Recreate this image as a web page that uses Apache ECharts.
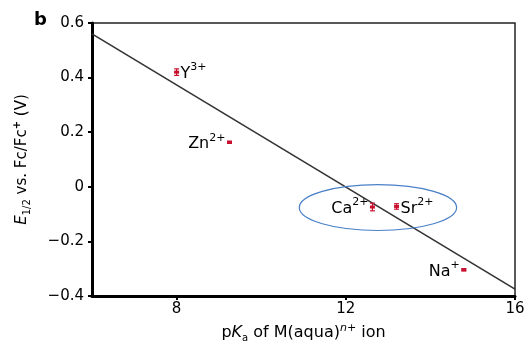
<!DOCTYPE html>
<html>
<head>
<meta charset="utf-8">
<script src="https://cdn.jsdelivr.net/npm/echarts@6/dist/echarts.min.js"></script>
<style>
  html, body { margin: 0; padding: 0; background: #fff; }
  #chart { width: 528px; height: 348px; }
</style>
</head>
<body>
<div id="chart"></div>
<script>
// measured points (pKa, E1/2, half error)
const ions = ['Y', 'Zn', 'Ca', 'Sr', 'Na']
const charges = ['3+', '2+', '2+', '2+', '+']
const pKa = [8.0, 9.25, 12.63, 13.2, 14.79]
const potential = [0.42, 0.163, -0.074, -0.072, -0.304]
const errHalf = [0.012, 0.004, 0.014, 0.01, 0.004]

// linear fit endpoints
const fitX = [6, 16]
const fitY = [0.56, -0.375]

// x ticks and the circled group (Ca, Sr)
const xTicks = [8, 12, 16]
const ellipseCenter = [12.76, -0.076]
const ellipseRadius = [1.86, 0.084]

const labelSide = ['right', 'left', 'left', 'right', 'left']
const FONT = '"DejaVu Sans", "Liberation Sans", sans-serif'
const RED = '#c8102e'
const INK = '#000'

const chart = echarts.init(document.getElementById('chart'))

const supRich = {
  base: { fontSize: 16, fontFamily: FONT, fill: INK, lineHeight: 20, verticalAlign: 'bottom' },
  sup: { fontSize: 11, fontFamily: FONT, fill: INK, lineHeight: 11, verticalAlign: 'top' }
}

const errorData = pKa.map((x, i) => [x, potential[i], errHalf[i]])

// error bar + ion label for each point
const renderErrorBar = (params, api) => {
  const i = params.dataIndex
  const x = api.value(0), y = api.value(1), e = api.value(2)
  const c = api.coord([x, y])
  const hi = api.coord([x, y + e])
  const lo = api.coord([x, y - e])
  const style = { stroke: RED, lineWidth: 1.2 }
  const right = labelSide[i] === 'right'
  return {
    type: 'group',
    children: [
      { type: 'line', shape: { x1: c[0], y1: hi[1], x2: c[0], y2: lo[1] }, style },
      { type: 'line', shape: { x1: c[0] - 2.5, y1: hi[1], x2: c[0] + 2.5, y2: hi[1] }, style },
      { type: 'line', shape: { x1: c[0] - 2.5, y1: lo[1], x2: c[0] + 2.5, y2: lo[1] }, style },
      { type: 'rect', shape: { x: c[0] - 2.5, y: c[1] - 1.5, width: 5, height: 3 }, style: { fill: RED } },
      {
        type: 'text',
        x: right ? c[0] + 4 : c[0] - 4,
        y: c[1],
        style: {
          text: `{base|${ions[i]}}{sup|${charges[i]}}`,
          rich: supRich,
          fill: INK,
          align: right ? 'left' : 'right',
          verticalAlign: 'middle'
        }
      }
    ]
  }
}

const nameRich = (size) => ({
  n: { fontSize: size, fontFamily: FONT, color: INK, lineHeight: 20, verticalAlign: 'middle' },
  i: { fontSize: size, fontFamily: FONT, fontStyle: 'italic', color: INK, lineHeight: 20, verticalAlign: 'middle' },
  sub: { fontSize: 10, fontFamily: FONT, color: INK, lineHeight: 10, verticalAlign: 'bottom' },
  sup: { fontSize: 10, fontFamily: FONT, color: INK, lineHeight: 10, verticalAlign: 'top', fontWeight: 'bold' },
  isup: { fontSize: 11, fontFamily: FONT, fontStyle: 'italic', color: INK, lineHeight: 10, verticalAlign: 'top' }
})

const letterB = {
  type: 'text', left: 34, top: 11,
  style: { text: 'b', fontSize: 18, fontWeight: 'bold', fontFamily: FONT, fill: '#000' }
}

chart.setOption({
  animation: false,
  backgroundColor: '#fff',
  grid: {
    left: 92, right: 13, top: 23, bottom: 50,
    show: true, borderColor: '#222', borderWidth: 1.5
  },
  xAxis: {
    type: 'value',
    min: 6, max: 16,
    name: '{n|p}{i|K}{sub|a}{n| of M(aqua)}{isup|n+}{n| ion}',
    nameLocation: 'middle',
    nameGap: 27,
    nameTextStyle: { rich: nameRich(16) },
    axisLine: { show: true, onZero: false, lineStyle: { color: '#000', width: 3 } },
    axisTick: { show: true, customValues: xTicks, length: 4, lineStyle: { color: '#000', width: 2 } },
    axisLabel: { customValues: xTicks, fontSize: 15, fontFamily: FONT, color: INK, margin: 6 },
    splitLine: { show: false }
  },
  yAxis: {
    type: 'value',
    min: -0.4, max: 0.6, interval: 0.2,
    name: '{i|E}{sub|1/2}{n| vs. Fc/Fc}{sup|+}{n| (V)}',
    nameLocation: 'middle',
    nameGap: 60,
    nameTextStyle: { rich: nameRich(15) },
    axisLine: { show: true, onZero: false, lineStyle: { color: '#000', width: 3 } },
    axisTick: { show: true, length: 4, lineStyle: { color: '#000', width: 2 } },
    axisLabel: {
      fontSize: 15, fontFamily: FONT, color: INK, margin: 8,
      formatter: v => (Math.abs(v) < 1e-9 ? '0' : v.toFixed(1).replace('-', '\u2212'))
    },
    splitLine: { show: false }
  },
  series: [
    {
      name: 'fit',
      type: 'line',
      data: fitX.map((x, i) => [x, fitY[i]]),
      symbol: 'none',
      lineStyle: { color: '#333', width: 1.6 },
      z: 2
    },
    {
      name: 'errors',
      type: 'custom',
      data: errorData,
      renderItem: renderErrorBar,
      z: 3
    }
  ],
  graphic: [letterB]
})

// blue ellipse around the Ca/Sr pair, placed through the axis scales
const c = chart.convertToPixel({ gridIndex: 0 }, ellipseCenter)
const edge = chart.convertToPixel({ gridIndex: 0 }, [ellipseCenter[0] + ellipseRadius[0], ellipseCenter[1] + ellipseRadius[1]])
chart.setOption({
  graphic: [
    letterB,
    {
      type: 'ellipse',
      shape: { cx: c[0], cy: c[1], rx: edge[0] - c[0], ry: c[1] - edge[1] },
      style: { fill: 'none', stroke: '#4a80c8', lineWidth: 1.2 },
      z: 10
    }
  ]
})
</script>
</body>
</html>
